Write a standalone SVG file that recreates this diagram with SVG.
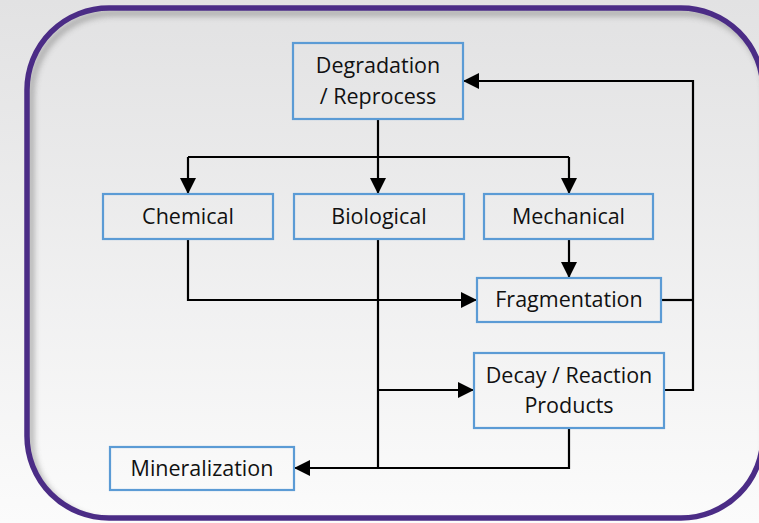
<svg xmlns="http://www.w3.org/2000/svg" width="759" height="523" viewBox="0 0 759 523">
<defs>
<linearGradient id="bg" x1="0" y1="0" x2="0" y2="1">
<stop offset="0" stop-color="#e2e2e3"/>
<stop offset="1" stop-color="#fbfbfb"/>
</linearGradient>
<filter id="blur" x="-10%" y="-10%" width="120%" height="120%"><feGaussianBlur stdDeviation="3"/></filter>
<clipPath id="inner"><rect x="27" y="8" width="736" height="510" rx="82" ry="82"/></clipPath>
<marker id="arr" viewBox="0 0 16 16" refX="16" refY="8" markerWidth="16" markerHeight="16" markerUnits="userSpaceOnUse" orient="auto">
<path d="M0,0 L16,8 L0,16 Z" fill="#000"/>
</marker>
<style>
.box{fill:none;stroke:#5b9bd5;stroke-width:2.2}
.lbl{font-family:"Open Sans","Noto Sans",sans-serif;font-size:21.5px;fill:#111;text-anchor:middle}
.con{fill:none;stroke:#000;stroke-width:2.2}
</style>
</defs>
<rect width="759" height="523" fill="url(#bg)"/>
<g clip-path="url(#inner)">
<rect x="27" y="8" width="736" height="510" rx="82" ry="82" fill="url(#bg)"/>
<rect x="31" y="13" width="736" height="510" rx="82" ry="82" fill="none" stroke="#8a8a8a" stroke-width="5" filter="url(#blur)" opacity="0.8"/>
</g>
<rect id="frame" x="27" y="8" width="736" height="510" rx="82" ry="82" fill="none" stroke="#4b2c86" stroke-width="5.5"/>

<g id="connectors">
<path class="con" d="M378,119 V157"/>
<path class="con" d="M188,157 H569"/>
<path class="con" d="M188,157 V194" marker-end="url(#arr)"/>
<path class="con" d="M378,157 V194" marker-end="url(#arr)"/>
<path class="con" d="M569,157 V194" marker-end="url(#arr)"/>
<path class="con" d="M569,239 V278" marker-end="url(#arr)"/>
<path class="con" d="M188,239 V300 H477" marker-end="url(#arr)"/>
<path class="con" d="M378,239 V468"/>
<path class="con" d="M378,390 H474" marker-end="url(#arr)"/>
<path class="con" d="M569,428 V468 H294" marker-end="url(#arr)"/>
<path class="con" d="M661,300 H693"/>
<path class="con" d="M664,390 H693 V81 H463" marker-end="url(#arr)"/>
</g>

<g id="degradation">
<rect class="box" x="293" y="43" width="170" height="76"/>
<text class="lbl" x="378" y="73">Degradation</text>
<text class="lbl" x="378" y="104">/ Reprocess</text>
</g>
<g id="chemical">
<rect class="box" x="103" y="194" width="170" height="45"/>
<text class="lbl" x="188" y="224">Chemical</text>
</g>
<g id="biological">
<rect class="box" x="294" y="194" width="170" height="45"/>
<text class="lbl" x="379" y="224">Biological</text>
</g>
<g id="mechanical">
<rect class="box" x="484" y="194" width="169" height="45"/>
<text class="lbl" x="568.5" y="224">Mechanical</text>
</g>
<g id="fragmentation">
<rect class="box" x="477" y="278" width="184" height="44"/>
<text class="lbl" x="569" y="307">Fragmentation</text>
</g>
<g id="decay">
<rect class="box" x="474" y="353" width="190" height="75"/>
<text class="lbl" x="569" y="383">Decay / Reaction</text>
<text class="lbl" x="569" y="413">Products</text>
</g>
<g id="mineralization">
<rect class="box" x="110" y="447" width="184" height="43"/>
<text class="lbl" x="202" y="476">Mineralization</text>
</g>
</svg>
